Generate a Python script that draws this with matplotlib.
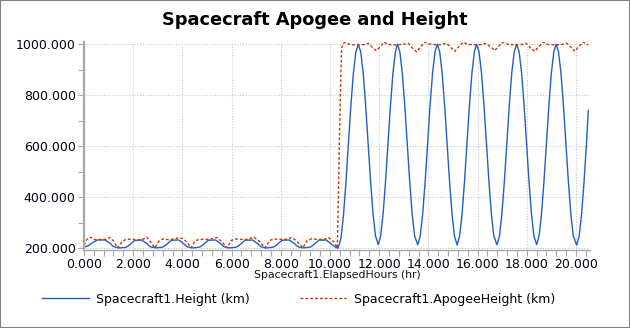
import matplotlib
matplotlib.use('Agg')
import matplotlib.pyplot as plt
from matplotlib.ticker import MultipleLocator, FormatStrFormatter
from matplotlib.patches import Rectangle

# elapsed hours / height (km) of Spacecraft1
height_t = [0.00, 0.15, 0.35, 0.55, 0.85, 1.05, 1.20, 1.45, 1.70, 1.85, 2.05, 2.35, 2.55, 2.70,
            2.94, 3.20, 3.35, 3.55, 3.85, 4.05, 4.20, 4.43, 4.70, 4.85, 5.05, 5.35, 5.55, 5.70,
            5.92, 6.20, 6.35, 6.55, 6.85, 7.05, 7.20, 7.41, 7.70, 7.85, 8.05, 8.35, 8.55, 8.70,
            8.90, 9.20, 9.35, 9.55, 9.85, 10.05, 10.25, 10.33,
            10.45, 10.55, 10.65, 10.75, 10.85, 10.95, 11.05, 11.15,
            11.25, 11.35, 11.45, 11.55, 11.65, 11.75, 11.85, 11.96,
            12.06, 12.16, 12.26, 12.36, 12.46, 12.56, 12.66, 12.74,
            12.84, 12.94, 13.04, 13.14, 13.24, 13.34, 13.44, 13.57,
            13.67, 13.77, 13.87, 13.97, 14.07, 14.17, 14.27, 14.36,
            14.46, 14.56, 14.66, 14.76, 14.86, 14.96, 15.06, 15.17,
            15.27, 15.37, 15.47, 15.57, 15.67, 15.77, 15.87, 15.96,
            16.06, 16.16, 16.26, 16.36, 16.46, 16.56, 16.66, 16.79,
            16.89, 16.99, 17.09, 17.19, 17.29, 17.39, 17.49, 17.59,
            17.69, 17.79, 17.89, 17.99, 18.09, 18.19, 18.29, 18.40,
            18.50, 18.60, 18.70, 18.80, 18.90, 19.00, 19.10, 19.19,
            19.29, 19.39, 19.49, 19.59, 19.69, 19.79, 19.89, 20.03,
            20.13, 20.23, 20.33, 20.43, 20.50]
height_km = [205, 208, 222, 232, 232, 220, 206, 201, 203, 212, 230, 232, 218, 205,
             201, 204, 214, 231, 232, 218, 205, 201, 204, 214, 231, 232, 218, 205,
             201, 204, 214, 231, 232, 218, 205, 201, 204, 214, 231, 232, 218, 205,
             201, 204, 214, 231, 232, 216, 202, 200,
             240, 330, 460, 610, 760, 885, 968, 1000,
             970, 887, 761, 613, 463, 335, 248, 214,
             248, 335, 463, 613, 761, 887, 970, 1000,
             970, 887, 761, 613, 463, 335, 248, 213,
             248, 335, 463, 613, 761, 887, 970, 1000,
             970, 887, 761, 613, 463, 335, 248, 212,
             248, 335, 463, 613, 761, 887, 970, 1000,
             970, 887, 761, 613, 463, 335, 248, 213,
             248, 335, 463, 613, 761, 887, 970, 1000,
             970, 887, 761, 613, 463, 335, 248, 214,
             248, 335, 463, 613, 761, 887, 970, 1000,
             970, 887, 761, 613, 463, 335, 248, 212,
             248, 335, 463, 613, 740]

# elapsed hours / apogee height (km)
apogee_t = [0.00, 0.12, 0.27, 0.45, 0.70, 0.90, 1.05, 1.20, 1.37, 1.55, 1.70, 1.95, 2.15, 2.40,
            2.55, 2.70, 2.88, 3.05, 3.20, 3.45, 3.70, 3.90, 4.05, 4.20, 4.35, 4.52, 4.70, 4.95,
            5.20, 5.40, 5.60, 5.82, 5.98, 6.15, 6.40, 6.65, 6.90, 7.10, 7.36, 7.55, 7.70, 7.95,
            8.20, 8.45, 8.65, 8.90, 9.05, 9.25, 9.50, 9.75, 9.95, 10.15, 10.30,
            10.36, 10.40, 10.43, 10.47, 10.55, 10.62, 10.75, 10.90, 11.15, 11.35, 11.56,
            11.70, 11.88, 12.05, 12.20, 12.35, 12.60, 12.80, 13.00, 13.18, 13.35, 13.52,
            13.70, 13.86, 14.00, 14.30, 14.50, 14.74, 14.90, 15.08, 15.25, 15.42, 15.60,
            15.90, 16.10, 16.35, 16.55, 16.70, 16.85, 17.05, 17.25, 17.55, 17.75, 17.97,
            18.15, 18.33, 18.50, 18.68, 18.85, 19.20, 19.40, 19.62, 19.80, 19.96, 20.12,
            20.30, 20.45, 20.50]
apogee_km = [212, 235, 243, 233, 234, 235, 242, 228, 201, 226, 234, 236, 231, 235,
             243, 225, 201, 228, 236, 233, 237, 241, 236, 222, 201, 229, 235, 234,
             236, 242, 226, 201, 230, 236, 234, 235, 243, 230, 201, 230, 236, 235,
             235, 242, 228, 201, 228, 237, 234, 235, 241, 225, 201,
             500, 700, 830, 985, 1003, 1008, 1001, 998, 997, 998, 1003,
             990, 975, 990, 1008, 999, 997, 998, 1000, 1004, 985, 970,
             992, 1008, 1001, 998, 998, 1004, 988, 972, 992, 1008, 999,
             998, 998, 1003, 988, 975, 992, 1008, 999, 998, 998, 1004,
             985, 972, 992, 1008, 999, 998, 998, 1004, 988, 972, 992,
             1008, 1000, 997]

fig = plt.figure(figsize=(6.3, 3.28), dpi=100)
ax = fig.add_axes([0.1333, 0.238, 0.8032, 0.635])

ax.plot(height_t, height_km, color='#1f5fc8', linewidth=1.0,
        label='Spacecraft1.Height (km)')
ax.plot(apogee_t, apogee_km, color='#cc3300', linewidth=1.0,
        linestyle=(0, (2, 1.5)), label='Spacecraft1.ApogeeHeight (km)')

ax.set_xlim(0, 20.57)
ax.set_ylim(193, 1010)

ax.xaxis.set_major_locator(MultipleLocator(2))
ax.xaxis.set_minor_locator(MultipleLocator(0.4))
ax.yaxis.set_major_locator(MultipleLocator(200))
ax.yaxis.set_minor_locator(MultipleLocator(100))
ax.xaxis.set_major_formatter(FormatStrFormatter('%.3f'))
ax.yaxis.set_major_formatter(FormatStrFormatter('%.3f'))

ax.grid(True, which='major', color='#c8c8c8', linestyle=(0, (1, 1.5)), linewidth=0.8)
ax.set_axisbelow(True)

for s in ['top', 'right']:
    ax.spines[s].set_visible(False)
ax.spines['left'].set_color('#a8a8a8')
ax.spines['left'].set_linewidth(1.6)
ax.spines['bottom'].set_color('#a8a8a8')
ax.spines['bottom'].set_linewidth(1.0)

ax.tick_params(which='both', direction='out', color='#a8a8a8', width=0.8)
ax.tick_params(which='major', length=4, labelsize=9, labelcolor='#000018', pad=2)
ax.tick_params(which='minor', length=4)

ax.set_xlabel('Spacecraft1.ElapsedHours (hr)', fontsize=7.8, color='#101010', labelpad=-1)

fig.text(0.5, 0.94, 'Spacecraft Apogee and Height', ha='center', va='center',
         fontsize=12.8, fontweight='bold')

fig.legend(loc='center', bbox_to_anchor=(0.474, 0.088), ncol=2, frameon=False,
           fontsize=9, handlelength=3.7, handletextpad=0.6, columnspacing=4.0)

# thin gray border round the whole image
fig.patches.append(Rectangle((0, 0), 1, 1, transform=fig.transFigure, fill=False,
                             edgecolor='#808080', linewidth=1.5))

fig.savefig('out.png', dpi=100)
